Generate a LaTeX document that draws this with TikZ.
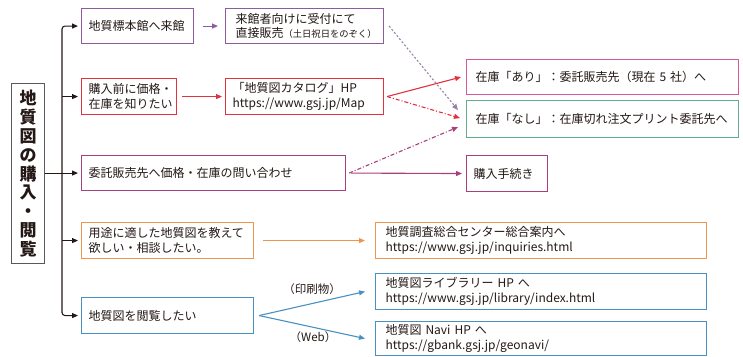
\documentclass[tikz,border=0pt]{standalone}
\usepackage{fontspec}
\setmainfont{Noto Sans CJK JP}
\usetikzlibrary{arrows.meta,calc}
\definecolor{purA}{HTML}{8E5C9E}
\definecolor{redA}{HTML}{E2313F}
\definecolor{magA}{HTML}{A8407E}
\definecolor{pinkA}{HTML}{D8569A}
\definecolor{grnA}{HTML}{62AE8A}
\definecolor{orgA}{HTML}{F0944E}
\definecolor{bluA}{HTML}{4A90C0}
\definecolor{txt}{HTML}{231815}
\definecolor{dotA}{HTML}{9A7FA8}
\begin{document}
\begin{tikzpicture}[x=1pt,y=-1pt,
  bx/.style={draw=#1, line width=1.1pt, fill=white, anchor=north west, align=left,
    inner xsep=7pt, inner ysep=0pt, font=\fontsize{12}{14.5}\selectfont, text=txt},
  cp/.style={draw=#1, line width=1.1pt, -{Triangle[length=6pt,width=5pt]}},
  kp/.style={draw=txt, line width=1.1pt, -{Triangle[length=6pt,width=5pt]}, shorten >=3pt},
  lbl/.style={font=\fontsize{11.5}{13}\selectfont, text=txt, inner sep=0pt}]
\useasboundingbox (0,0) rectangle (743,356);
% left title box
\node[draw=black!65, line width=1.2pt, anchor=north west, minimum width=33pt, minimum height=180pt,
  inner sep=0pt, align=center, text=txt, font=\fontsize{17}{18.8}\selectfont\bfseries] (L) at (11,83)
  {地\\質\\図\\の\\購\\入\\・\\閲\\覧};
% boxes
\node[bx=purA, text width=98pt, minimum height=35pt] (b1) at (81,8) {地質標本館へ来館};
\node[bx=purA, inner xsep=10pt, text width=138pt, minimum height=35pt] (b2) at (225,8) {来館者向けに受付にて\\直接販売{\fontsize{9.3}{10}\selectfont（土日祝日をのぞく）}};
\node[bx=redA, text width=81pt, minimum height=36pt] (b3) at (81,78) {購入前に価格・\\在庫を知りたい};
\node[bx=redA, text width=144pt, minimum height=36pt] (b4) at (225,78) {「地質図カタログ」HP\\https://www.gsj.jp/Map};
\node[bx=magA, text width=250pt, minimum height=35pt] (b5) at (81,155) {委託販売先へ価格・在庫の問い合わせ};
\node[bx=pinkA, inner xsep=9pt, text width=254pt, minimum height=35pt] (b6) at (466,59) {在庫「あり」：委託販売先（現在 5 社）へ};
\node[bx=grnA, inner xsep=9pt, text width=254pt, minimum height=37pt] (b7) at (466,100) {在庫「なし」：在庫切れ注文プリント委託先へ};
\node[bx=magA, text width=67pt, minimum height=36pt] (b8) at (466,155) {購入手続き};
\node[bx=orgA, text width=158pt, minimum height=36pt] (b9) at (81,222) {用途に適した地質図を教えて\\欲しい・相談したい。};
\node[bx=orgA, inner xsep=10pt, text width=311pt, minimum height=36pt] (b10) at (375,222) {地質調査総合センター総合案内へ\\https://www.gsj.jp/inquiries.html};
\node[bx=bluA, text width=158pt, minimum height=36pt] (b11) at (81,297) {地質図を閲覧したい};
\node[bx=bluA, inner xsep=10pt, text width=311pt, minimum height=36pt] (b12) at (375,273) {地質図ライブラリー HP へ\\https://www.gsj.jp/library/index.html};
\node[bx=bluA, inner xsep=10pt, text width=311pt, minimum height=34pt] (b13) at (375,321) {地質図 Navi HP へ\\https://gbank.gsj.jp/geonavi/};
% labels
\node[lbl] (p1) at (312,289) {（印刷物）};
\node[lbl] (p2) at (313,337) {（Web）};
% trunk
\coordinate (tr) at (62,172);
\draw[kp, rounded corners=3pt] (tr) |- (b1.west);
\draw[kp, rounded corners=3pt] (tr) |- (b11.west);
\draw[kp] (tr |- b3.west) -- (b3.west);
\draw[kp] (L.east |- b5.west) -- (b5.west);
\draw[kp] (tr |- b9.west) -- (b9.west);
% colored connectors
\draw[cp=purA, shorten <=9pt, shorten >=7pt] (b1.east) -- (b2.west);
\draw[cp=redA, shorten <=5pt, shorten >=3pt] (b3.east) -- (b4.west);
\draw[cp=redA] ($(b4.east)+(3,0)$) -- ($(b6.west)+(-5,0)$);
\draw[cp=redA, dash pattern=on 4pt off 2pt on 1pt off 2pt] ($(b4.east)+(3,0)$) -- ($(b7.west)+(-6,-1)$);
\draw[cp=dotA, dash pattern=on 2pt off 2pt] ($(b2.east)+(5,0)$) -- ($(b7.west)+(-8,-9)$);
\draw[cp=magA, dash pattern=on 4pt off 2pt on 1pt off 2pt] ($(b5.east)+(3,0)$) -- ($(b7.west)+(-8,8)$);
\draw[cp=magA, shorten <=5pt, shorten >=4pt] (b5.east) -- (b8.west);
\draw[cp=orgA, shorten <=9pt, shorten >=10pt] (b9.east) -- (b10.west);
\draw[cp=bluA] ($(b11.east)+(5,0)$) -- ($(b12.west)+(-10,0)$);
\draw[cp=bluA] ($(b11.east)+(5,0)$) -- ($(b13.west)+(-10,0)$);
\end{tikzpicture}
\end{document}
